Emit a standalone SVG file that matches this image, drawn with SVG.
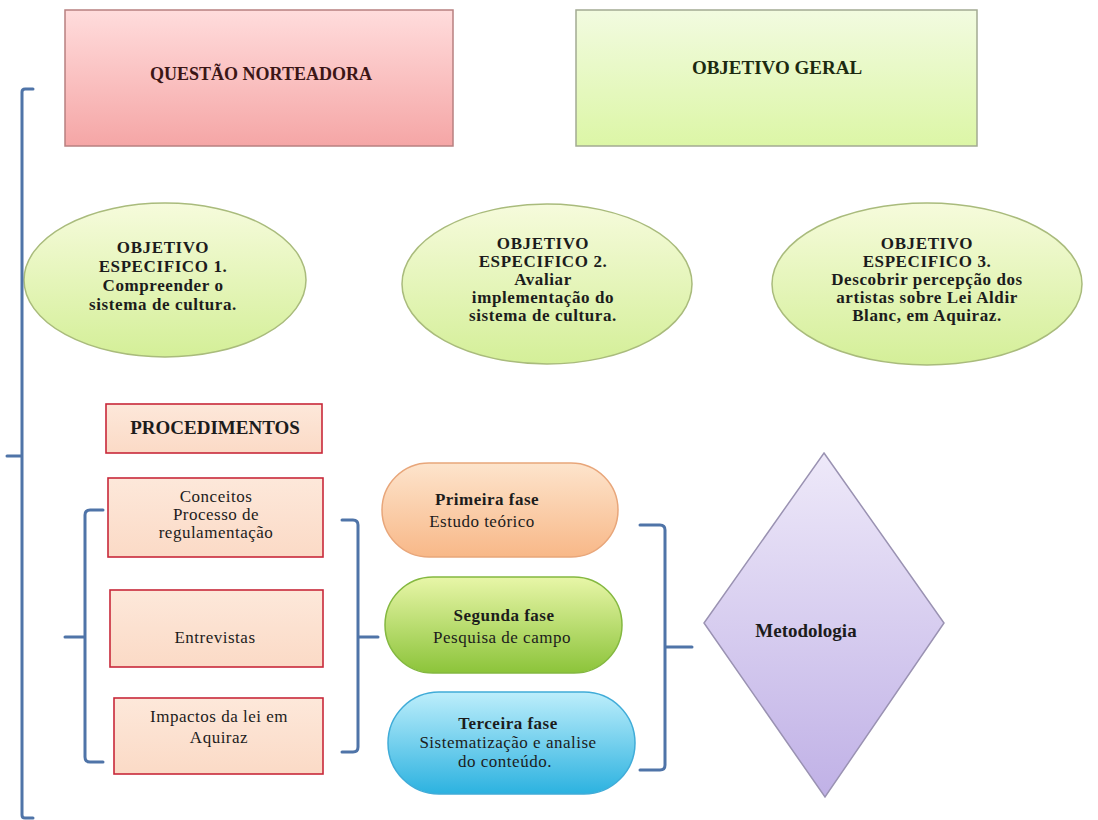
<svg xmlns="http://www.w3.org/2000/svg" width="1098" height="820" viewBox="0 0 1098 820">
<defs>
<linearGradient id="gPink" x1="0" y1="0" x2="0" y2="1"><stop offset="0" stop-color="#ffdcdc"/><stop offset="1" stop-color="#f5a6a6"/></linearGradient>
<linearGradient id="gLime" x1="0" y1="0" x2="0" y2="1"><stop offset="0" stop-color="#f2fbe0"/><stop offset="1" stop-color="#dcf6a6"/></linearGradient>
<linearGradient id="gEll" x1="0" y1="0" x2="0" y2="1"><stop offset="0" stop-color="#f6fbdc"/><stop offset="1" stop-color="#d4ef98"/></linearGradient>
<linearGradient id="gPeach" x1="0" y1="0" x2="0" y2="1"><stop offset="0" stop-color="#fde8da"/><stop offset="1" stop-color="#fbdac6"/></linearGradient>
<linearGradient id="gOrange" x1="0" y1="0" x2="0" y2="1"><stop offset="0" stop-color="#fde4cc"/><stop offset="1" stop-color="#f8b888"/></linearGradient>
<linearGradient id="gGreen" x1="0" y1="0" x2="0" y2="1"><stop offset="0" stop-color="#e8f6a8"/><stop offset="1" stop-color="#8cc43a"/></linearGradient>
<linearGradient id="gBlue" x1="0" y1="0" x2="0" y2="1"><stop offset="0" stop-color="#bdeefb"/><stop offset="1" stop-color="#2cb2e0"/></linearGradient>
<linearGradient id="gPurple" x1="0" y1="0" x2="0" y2="1"><stop offset="0" stop-color="#eee9f9"/><stop offset="1" stop-color="#c0b1e6"/></linearGradient>
</defs>
<style>
text{font-family:"Liberation Serif","Times New Roman",serif;font-size:19px;fill:#1c1c1c;text-anchor:middle}
.b{font-weight:bold}
.e{font-size:17px;letter-spacing:0.6px}
.s{font-size:17px;letter-spacing:0.5px}
.brk{fill:none;stroke:#4f74a8;stroke-width:3;stroke-linecap:round;stroke-linejoin:round}
.box{fill:url(#gPeach);stroke:#c8283a;stroke-width:1.6}
.ell{fill:url(#gEll);stroke:#a9bb7c;stroke-width:1.5}
</style>
<rect width="1098" height="820" fill="#ffffff"/>

<g id="questao">
<rect x="65" y="10" width="388" height="136" fill="url(#gPink)" stroke="#b88080" stroke-width="1.5"/>
<text class="b" x="261" y="80" style="fill:#3b1616;font-size:18px">QUESTÃO NORTEADORA</text>
</g>
<g id="objetivo-geral">
<rect x="576" y="10" width="401" height="136" fill="url(#gLime)" stroke="#a3aa92" stroke-width="1.5"/>
<text class="b" x="777" y="74" style="fill:#1c2a10">OBJETIVO GERAL</text>
</g>

<g id="especifico1">
<ellipse class="ell" cx="165" cy="280" rx="141" ry="77"/>
<text class="b e" x="163"><tspan x="163" y="253">OBJETIVO</tspan><tspan x="163" y="272">ESPECIFICO 1.</tspan><tspan x="163" y="291">Compreender o</tspan><tspan x="163" y="310">sistema de cultura.</tspan></text>
</g>
<g id="especifico2">
<ellipse class="ell" cx="547" cy="284" rx="145" ry="80"/>
<text class="b e" x="543"><tspan x="543" y="249">OBJETIVO</tspan><tspan x="543" y="267">ESPECIFICO 2.</tspan><tspan x="543" y="285">Avaliar</tspan><tspan x="543" y="303">implementação do</tspan><tspan x="543" y="321">sistema de cultura.</tspan></text>
</g>
<g id="especifico3">
<ellipse class="ell" cx="927" cy="284" rx="155" ry="81"/>
<text class="b e" x="927"><tspan x="927" y="249">OBJETIVO</tspan><tspan x="927" y="267">ESPECIFICO 3.</tspan><tspan x="927" y="285">Descobrir percepção dos</tspan><tspan x="927" y="303">artistas sobre Lei Aldir</tspan><tspan x="927" y="321">Blanc, em Aquiraz.</tspan></text>
</g>

<g id="procedimentos">
<rect class="box" x="106" y="404" width="216" height="49"/>
<text class="b" x="215" y="434">PROCEDIMENTOS</text>
</g>
<g id="conceitos">
<rect class="box" x="108" y="478" width="215" height="79"/>
<text class="s" x="216"><tspan x="216" y="502">Conceitos</tspan><tspan x="216" y="520">Processo de</tspan><tspan x="216" y="538">regulamentação</tspan></text>
</g>
<g id="entrevistas">
<rect class="box" x="110" y="590" width="213" height="77"/>
<text class="s" x="215" y="643">Entrevistas</text>
</g>
<g id="impactos">
<rect class="box" x="114" y="698" width="209" height="76"/>
<text class="s" x="219"><tspan x="219" y="722">Impactos da lei em</tspan><tspan x="219" y="743">Aquiraz</tspan></text>
</g>

<g id="fase1">
<rect x="382" y="463" width="236" height="94" rx="47" fill="url(#gOrange)" stroke="#e8a67a" stroke-width="1.5"/>
<text class="s" x="485"><tspan class="b" x="487" y="505">Primeira fase</tspan><tspan x="482" y="527">Estudo teórico</tspan></text>
</g>
<g id="fase2">
<rect x="385" y="577" width="237" height="96" rx="48" fill="url(#gGreen)" stroke="#84b840" stroke-width="1.5"/>
<text class="s" x="503"><tspan class="b" x="504" y="621">Segunda fase</tspan><tspan x="502" y="643">Pesquisa de campo</tspan></text>
</g>
<g id="fase3">
<rect x="388" y="692" width="247" height="102" rx="51" fill="url(#gBlue)" stroke="#40acd8" stroke-width="1.5"/>
<text class="s" x="508"><tspan class="b" x="508" y="729">Terceira fase</tspan><tspan x="508" y="748">Sistematização e analise</tspan><tspan x="505" y="767">do conteúdo.</tspan></text>
</g>

<g id="metodologia">
<polygon points="824,453 944,623 825,797 704,623" fill="url(#gPurple)" stroke="#9a92b2" stroke-width="1.5"/>
<text class="b" x="806" y="637">Metodologia</text>
</g>

<g id="connectors">
<path class="brk" d="M33,89 L25,89 Q22,89 22,92 L22,815 Q22,818 25,818 L33,818 M7,456 L22,456"/>
<path class="brk" d="M103,510 L90,510 Q85,510 85,515 L85,757 Q85,762 90,762 L103,762 M65,637 L85,637"/>
<path class="brk" d="M342,520 L353,520 Q358,520 358,525 L358,747 Q358,752 353,752 L342,752 M358,637 L378,637"/>
<path class="brk" d="M640,525 L660,525 Q665,525 665,530 L665,765 Q665,770 660,770 L640,770 M665,647 L692,647"/>
</g>
</svg>
